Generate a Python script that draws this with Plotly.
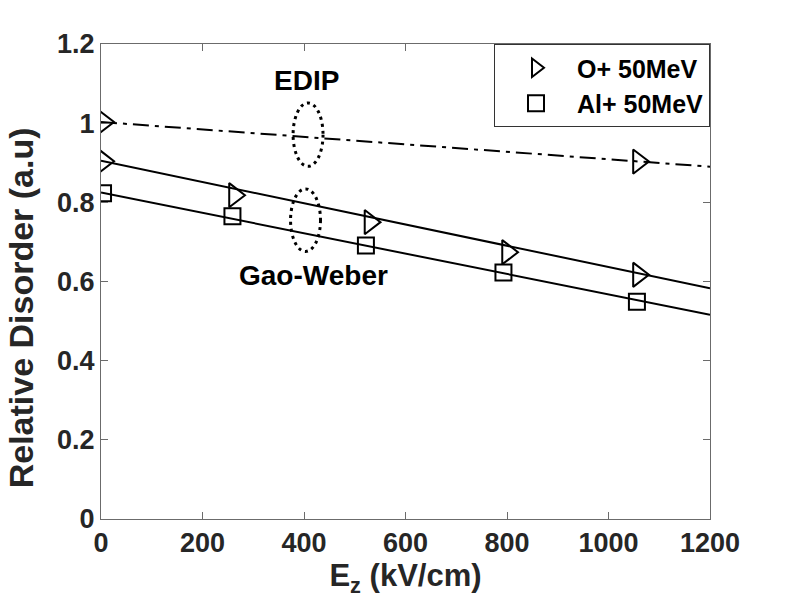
import plotly.graph_objects as go

# ---- data ----
x_o = [5, 263, 530, 801, 1059]
y_o = [0.904, 0.818, 0.750, 0.674, 0.617]
x_al = [4, 259, 522, 793, 1056]
y_al = [0.823, 0.765, 0.691, 0.623, 0.549]
x_edip = [5, 1059]
y_edip = [1.003, 0.903]
fit_x = [0, 1200]
fit_o = [0.905, 0.583]
fit_al = [0.825, 0.516]
fit_edip = [1.003, 0.890]

x_ticks = [0, 200, 400, 600, 800, 1000, 1200]
y_ticks = [0, 0.2, 0.4, 0.6, 0.8, 1.0, 1.2]
y_ticktext = ["0", "0.2", "0.4", "0.6", "0.8", "1", "1.2"]

# annotation ellipses: (x center, y center, x half-width, y half-height)
ell_edip = (408, 0.971, 29.5, 0.080)
ell_gw = (403, 0.755, 29.5, 0.079)
label_edip = ("EDIP", 404, 1.107)
label_gw = ("Gao-Weber", 418, 0.614)

FONT = "Liberation Sans, Arial, Helvetica, sans-serif"
TXT = "#262626"
AX = "#6b6b6b"

fig = go.Figure()

# fitted lines
fig.add_trace(go.Scatter(x=fit_x, y=fit_edip, mode="lines", showlegend=False,
                         line=dict(color="black", width=2, dash="16px,6px,4px,6px")))
fig.add_trace(go.Scatter(x=fit_x, y=fit_o, mode="lines", showlegend=False,
                         line=dict(color="black", width=2)))
fig.add_trace(go.Scatter(x=fit_x, y=fit_al, mode="lines", showlegend=False,
                         line=dict(color="black", width=2)))

# markers
fig.add_trace(go.Scatter(x=x_o, y=y_o, mode="markers", name="O+ 50MeV",
                         marker=dict(symbol="triangle-right-open", size=21, color="black",
                                     line=dict(width=2, color="black"))))
fig.add_trace(go.Scatter(x=x_al, y=y_al, mode="markers", name="Al+ 50MeV",
                         marker=dict(symbol="square-open", size=16, color="black",
                                     line=dict(width=2, color="black"))))
fig.add_trace(go.Scatter(x=x_edip, y=y_edip, mode="markers", showlegend=False,
                         marker=dict(symbol="triangle-right-open", size=21, color="black",
                                     line=dict(width=2, color="black"))))

for cx, cy, hw, hh in (ell_edip, ell_gw):
    fig.add_shape(type="circle", xref="x", yref="y",
                  x0=cx - hw, x1=cx + hw, y0=cy - hh, y1=cy + hh,
                  line=dict(color="black", width=3, dash="3px,4px"))

for txt, tx, ty in (label_edip, label_gw):
    fig.add_annotation(x=tx, y=ty, text=txt, showarrow=False, xref="x", yref="y",
                       font=dict(family=FONT, size=28, color="black", weight="bold"))

# y-axis title (placed as in the reference, slightly below axis centre)
fig.add_annotation(text="Relative Disorder (a.u)", textangle=-90, showarrow=False,
                   xref="paper", yref="paper", x=-0.131, y=0.444,
                   xanchor="center", yanchor="middle",
                   font=dict(family=FONT, size=34, color=TXT, weight="bold"))

axis_common = dict(
    showline=True, linecolor=AX, linewidth=1, mirror="ticks",
    ticks="inside", ticklen=7, tickwidth=1, tickcolor=AX,
    showgrid=False, zeroline=False,
    tickfont=dict(family=FONT, size=27, color=TXT, weight="bold"),
)

fig.update_xaxes(range=[0, 1200], tickvals=x_ticks, **axis_common,
                 title=dict(text="E<sub>z</sub> (kV/cm)", standoff=6,
                            font=dict(family=FONT, size=31, color=TXT, weight="bold")))
fig.update_yaxes(range=[0, 1.2], tickvals=y_ticks, ticktext=y_ticktext, **axis_common)

fig.update_layout(
    width=786, height=609,
    margin=dict(l=101, r=76, t=44, b=90),
    paper_bgcolor="white", plot_bgcolor="white",
    legend=dict(x=1, y=1, xanchor="right", yanchor="top",
                bgcolor="white", bordercolor="#333", borderwidth=1,
                itemwidth=72, tracegroupgap=2,
                font=dict(family=FONT, size=25, color="black", weight="bold")),
)

fig.write_html("out.html")
